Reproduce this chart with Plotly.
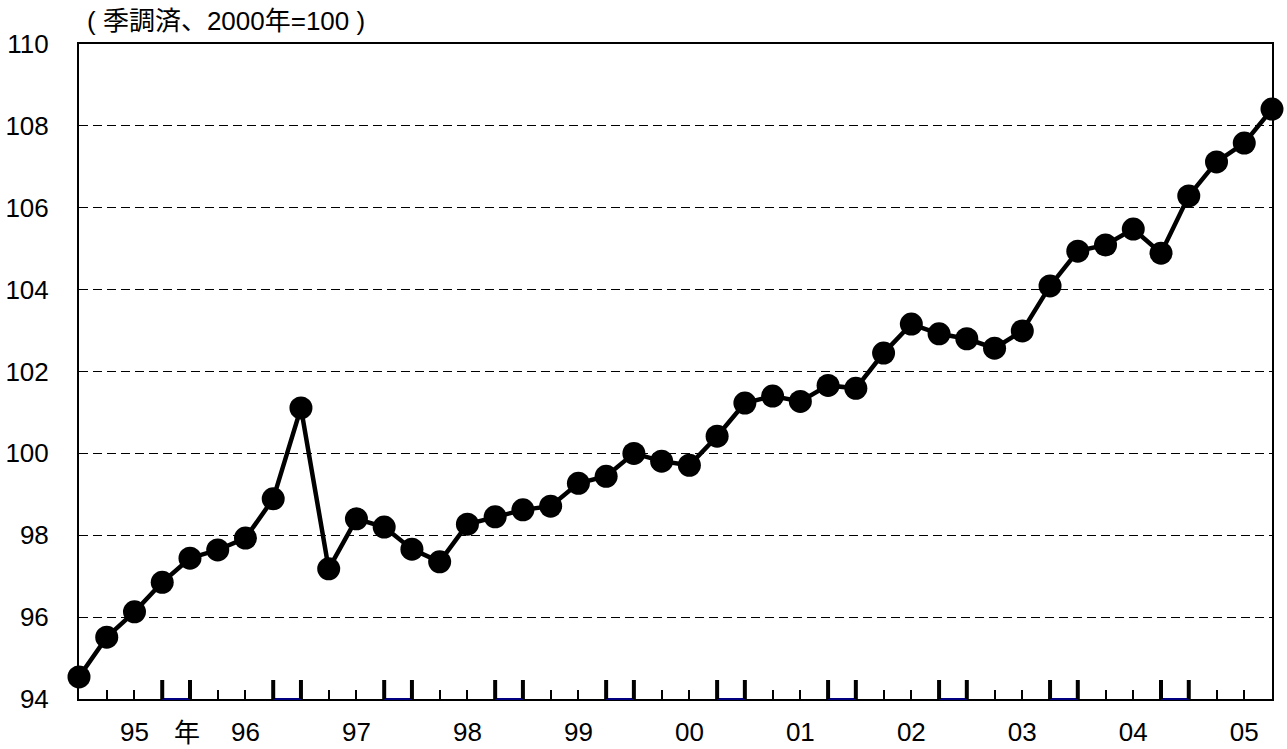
import plotly.graph_objects as go

# ---- data ----
years = ["95", "96", "97", "98", "99", "00", "01", "02", "03", "04", "05"]
quarters = [f"{y}Q{q}" for y in years for q in range(1, 5)]
values = [
    94.54, 95.51, 96.13, 96.85, 97.44, 97.64, 97.93, 98.89,
    101.11, 97.18, 98.40, 98.20, 97.66, 97.35, 98.27, 98.45,
    98.62, 98.71, 99.27, 99.44, 100.00, 99.81, 99.71, 100.42,
    101.23, 101.40, 101.27, 101.66, 101.59, 102.45, 103.16, 102.92,
    102.80, 102.57, 102.99, 104.09, 104.94, 105.09, 105.48, 104.89,
    106.29, 107.12, 107.58, 108.41,
]
y_ticks = [94, 96, 98, 100, 102, 104, 106, 108, 110]
title_text = "( 季調済、2000年=100 )"
year_word = "年"

FONT = "Arial, 'Liberation Sans', 'Noto Sans CJK JP', sans-serif"
FS = 26

xi = list(range(len(quarters)))
tick_text = [years[i // 4] if i % 4 == 2 else "" for i in xi]

fig = go.Figure()
fig.add_trace(go.Scatter(
    x=xi, y=values, mode="lines+markers",
    line=dict(color="black", width=4.5),
    marker=dict(color="black", size=23),
    cliponaxis=False, showlegend=False,
    hovertext=quarters,
))

shapes = []
for k in range(len(years) - 1):
    a, b = 4 * k + 3, 4 * k + 4
    shapes.append(dict(type="line", xref="x", yref="paper", x0=a, x1=b, y0=0, y1=0,
                       line=dict(color="#000080", width=2), layer="above"))
    for xv in (a, b):
        shapes.append(dict(type="line", xref="x", yref="paper", x0=xv, x1=xv, y0=0, y1=0.029,
                           line=dict(color="black", width=4), layer="above"))

fig.update_layout(
    width=1287, height=749,
    margin=dict(l=79, r=15, t=44, b=50),
    paper_bgcolor="white", plot_bgcolor="white",
    font=dict(family=FONT, size=FS, color="black"),
    shapes=shapes,
    annotations=[
        dict(text=title_text, xref="paper", yref="paper", x=0.005, y=1.0,
             xanchor="left", yanchor="bottom", yshift=6, showarrow=False,
             font=dict(family=FONT, size=26, color="black")),
        dict(text=year_word, xref="x", yref="paper", x=3.9, y=0, yshift=-34,
             xanchor="center", yanchor="middle", showarrow=False,
             font=dict(family=FONT, size=26, color="black")),
    ],
    xaxis=dict(
        range=[0, len(quarters) - 1],
        tickvals=xi, ticktext=tick_text,
        ticks="inside", ticklen=9, tickwidth=1.5, tickcolor="black",
        showline=True, linecolor="black", linewidth=2, mirror=True,
        showgrid=False, zeroline=False, automargin=False,
        ticklabelstandoff=9,
        tickfont=dict(size=FS),
    ),
    yaxis=dict(
        range=[94, 110], tickvals=y_ticks,
        showline=True, linecolor="black", linewidth=2, mirror=True,
        showgrid=True, gridcolor="black", gridwidth=1, griddash="9px,5px",
        zeroline=False, ticks="", automargin=False,
        ticklabelstandoff=23,
        tickfont=dict(size=FS),
    ),
)

fig.write_html("out.html", config={"displayModeBar": False},
               post_script="document.body.style.margin='0px';")
